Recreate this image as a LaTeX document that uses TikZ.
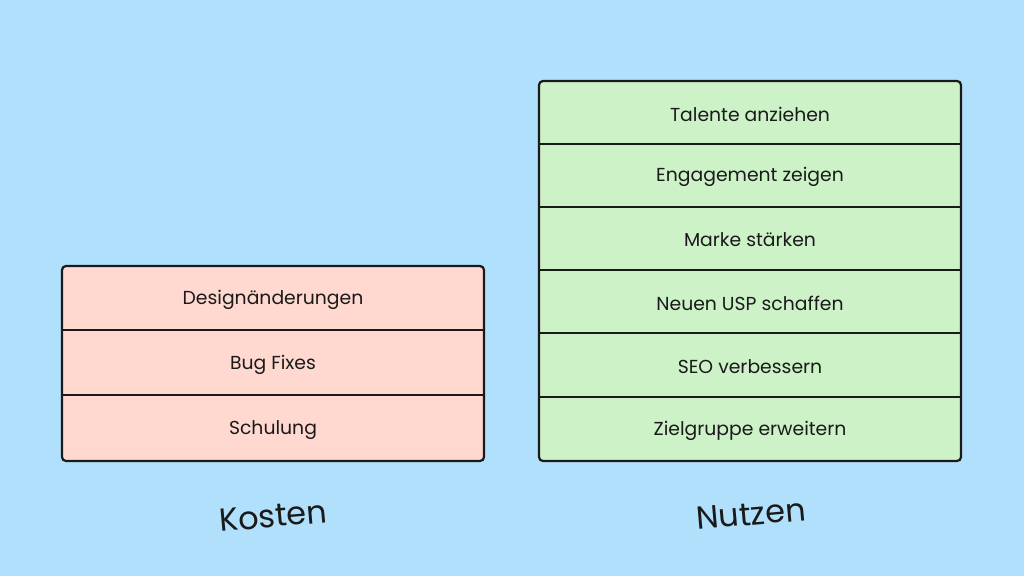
\documentclass[tikz,border=0pt]{standalone}
\usepackage{fontspec}
\setmainfont{Poppins}
\definecolor{bg}{HTML}{B0E0FB}
\definecolor{redf}{HTML}{FFD8D0}
\definecolor{greenf}{HTML}{CDF2C8}
\definecolor{ink}{HTML}{1A1A1A}
\begin{document}
\begin{tikzpicture}[x=1pt,y=-1pt,
  box/.style={draw=ink,line width=2.2pt,rounded corners=4pt},
  sep/.style={draw=ink,line width=2.2pt},
  lbl/.style={font=\fontsize{18.8}{22}\selectfont,text=ink},
  ttl/.style={font=\fontsize{32}{38}\selectfont,text=ink,rotate=5}]
\fill[bg] (0,0) rectangle (1024,576);
\useasboundingbox (0,0) rectangle (1024,576);
\draw[box,fill=redf] (62,266) rectangle (484,461);
\draw[sep] (62,330) -- (484,330);
\draw[sep] (62,395) -- (484,395);
\node[lbl] (d) at (273,300) {Designänderungen};
\node[lbl] (b) at (273,365) {Bug Fixes};
\node[lbl] (s) at (273,430) {Schulung};
\draw[box,fill=greenf] (539,81) rectangle (961,461);
\foreach \y in {144,207,270,333,397} \draw[sep] (539,\y) -- (961,\y);
\node[lbl] (g1) at (750,114) {Talente anziehen};
\node[lbl] (g2) at (750,177) {Engagement zeigen};
\node[lbl] (g3) at (750,240) {Marke stärken};
\node[lbl] (g4) at (750,303) {Neuen USP schaffen};
\node[lbl] (g5) at (750,367) {SEO verbessern};
\node[lbl] (g6) at (750,431) {Zielgruppe erweitern};
\node[ttl] (k) at (273,516) {Kosten};
\node[ttl] (n) at (751,514) {Nutzen};
\end{tikzpicture}
\end{document}
